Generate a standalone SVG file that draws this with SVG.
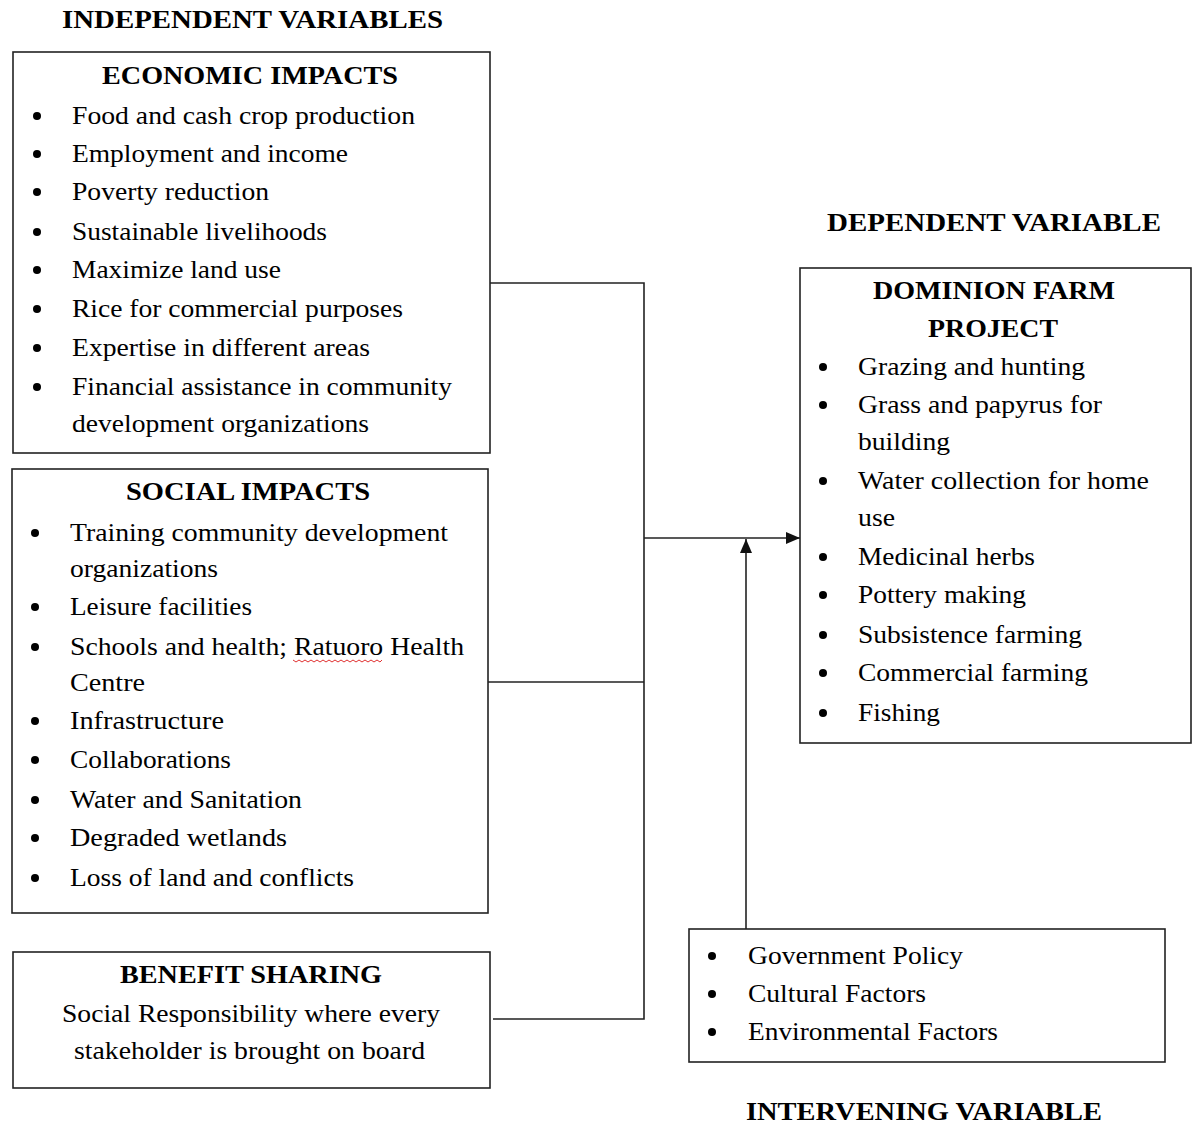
<svg xmlns="http://www.w3.org/2000/svg" width="1193" height="1126" viewBox="0 0 1193 1126">
  <style>
    text { font-family: "Liberation Serif", "Times New Roman", serif; fill: #000; }
    .h { font-size: 25px; font-weight: bold; }
    .b { font-size: 25px; }
    .box { fill: #fff; stroke: #222; stroke-width: 1.6; }
    .wire { fill: none; stroke: #222; stroke-width: 1.6; }
    .dot { fill: #000; }
  </style>
  <defs>
    <marker id="arrow" viewBox="0 0 14 12" refX="14" refY="6" markerWidth="14" markerHeight="12" markerUnits="userSpaceOnUse" orient="auto">
      <path d="M0,0 L14,6 L0,12 Z" fill="#111"/>
    </marker>
  </defs>

  <rect width="1193" height="1126" fill="#fff"/>

  <!-- section captions -->
  <text class="h" x="62" y="28" textLength="381" lengthAdjust="spacingAndGlyphs">INDEPENDENT VARIABLES</text>
  <text class="h" x="827" y="231" textLength="334" lengthAdjust="spacingAndGlyphs">DEPENDENT VARIABLE</text>
  <text class="h" x="746" y="1120" textLength="356" lengthAdjust="spacingAndGlyphs">INTERVENING VARIABLE</text>

  <!-- connectors -->
  <g id="connectors">
    <polyline class="wire" points="490,283 644,283 644,1019 493,1019"/>
    <line class="wire" x1="488" y1="682" x2="644" y2="682"/>
    <line class="wire" x1="644" y1="538" x2="800" y2="538" marker-end="url(#arrow)"/>
    <line class="wire" x1="746" y1="929" x2="746" y2="539" marker-end="url(#arrow)"/>
  </g>

  <!-- economic impacts -->
  <g id="economic">
    <rect class="box" x="13" y="52" width="477" height="401"/>
    <text class="h" x="102" y="84" textLength="296" lengthAdjust="spacingAndGlyphs">ECONOMIC IMPACTS</text>
    <circle class="dot" cx="37" cy="116" r="4"/>
    <text class="b" x="72" y="124" textLength="343" lengthAdjust="spacingAndGlyphs">Food and cash crop production</text>
    <circle class="dot" cx="37" cy="154" r="4"/>
    <text class="b" x="72" y="162" textLength="276" lengthAdjust="spacingAndGlyphs">Employment and income</text>
    <circle class="dot" cx="37" cy="192" r="4"/>
    <text class="b" x="72" y="200" textLength="197" lengthAdjust="spacingAndGlyphs">Poverty reduction</text>
    <circle class="dot" cx="37" cy="232" r="4"/>
    <text class="b" x="72" y="240" textLength="255" lengthAdjust="spacingAndGlyphs">Sustainable livelihoods</text>
    <circle class="dot" cx="37" cy="270" r="4"/>
    <text class="b" x="72" y="278" textLength="209" lengthAdjust="spacingAndGlyphs">Maximize land use</text>
    <circle class="dot" cx="37" cy="309" r="4"/>
    <text class="b" x="72" y="317" textLength="331" lengthAdjust="spacingAndGlyphs">Rice for commercial  purposes</text>
    <circle class="dot" cx="37" cy="348" r="4"/>
    <text class="b" x="72" y="356" textLength="298" lengthAdjust="spacingAndGlyphs">Expertise in  different areas</text>
    <circle class="dot" cx="37" cy="387" r="4"/>
    <text class="b" x="72" y="395" textLength="380" lengthAdjust="spacingAndGlyphs">Financial assistance in community</text>
    <text class="b" x="72" y="432" textLength="297" lengthAdjust="spacingAndGlyphs">development organizations</text>
  </g>

  <!-- social impacts -->
  <g id="social">
    <rect class="box" x="12" y="469" width="476" height="444"/>
    <text class="h" x="126" y="500" textLength="244" lengthAdjust="spacingAndGlyphs">SOCIAL IMPACTS</text>
    <circle class="dot" cx="35" cy="533" r="4"/>
    <text class="b" x="70" y="541" textLength="378" lengthAdjust="spacingAndGlyphs">Training community development</text>
    <text class="b" x="70" y="577" textLength="148" lengthAdjust="spacingAndGlyphs">organizations</text>
    <circle class="dot" cx="35" cy="607" r="4"/>
    <text class="b" x="70" y="615" textLength="182" lengthAdjust="spacingAndGlyphs">Leisure facilities</text>
    <circle class="dot" cx="35" cy="647" r="4"/>
    <text class="b" x="70" y="655" textLength="394" lengthAdjust="spacingAndGlyphs">Schools and health; Ratuoro Health</text>
    <polyline fill="none" stroke="#e03030" stroke-width="1" points="293,660 296,662 299,660 302,662 305,660 308,662 311,660 314,662 317,660 320,662 323,660 326,662 329,660 332,662 335,660 338,662 341,660 344,662 347,660 350,662 353,660 356,662 359,660 362,662 365,660 368,662 371,660 374,662 377,660 380,662 382,660"/>
    <text class="b" x="70" y="691" textLength="75" lengthAdjust="spacingAndGlyphs">Centre</text>
    <circle class="dot" cx="35" cy="721" r="4"/>
    <text class="b" x="70" y="729" textLength="154" lengthAdjust="spacingAndGlyphs">Infrastructure</text>
    <circle class="dot" cx="35" cy="760" r="4"/>
    <text class="b" x="70" y="768" textLength="161" lengthAdjust="spacingAndGlyphs">Collaborations</text>
    <circle class="dot" cx="35" cy="800" r="4"/>
    <text class="b" x="70" y="808" textLength="232" lengthAdjust="spacingAndGlyphs">Water and Sanitation</text>
    <circle class="dot" cx="35" cy="838" r="4"/>
    <text class="b" x="70" y="846" textLength="217" lengthAdjust="spacingAndGlyphs">Degraded wetlands</text>
    <circle class="dot" cx="35" cy="878" r="4"/>
    <text class="b" x="70" y="886" textLength="284" lengthAdjust="spacingAndGlyphs">Loss of land and conflicts</text>
  </g>

  <!-- benefit sharing -->
  <g id="benefit">
    <rect class="box" x="13" y="952" width="477" height="136"/>
    <text class="h" x="120" y="983" textLength="262" lengthAdjust="spacingAndGlyphs">BENEFIT SHARING</text>
    <text class="b" x="62" y="1022" textLength="378" lengthAdjust="spacingAndGlyphs">Social Responsibility  where every</text>
    <text class="b" x="74" y="1059" textLength="351" lengthAdjust="spacingAndGlyphs">stakeholder is brought on board</text>
  </g>

  <!-- dominion farm project -->
  <g id="dominion">
    <rect class="box" x="800" y="268" width="391" height="475"/>
    <text class="h" x="873" y="299" textLength="242" lengthAdjust="spacingAndGlyphs">DOMINION FARM</text>
    <text class="h" x="928" y="337" textLength="130" lengthAdjust="spacingAndGlyphs">PROJECT</text>
    <circle class="dot" cx="823" cy="367" r="4"/>
    <text class="b" x="858" y="375" textLength="227" lengthAdjust="spacingAndGlyphs">Grazing and hunting</text>
    <circle class="dot" cx="823" cy="405" r="4"/>
    <text class="b" x="858" y="413" textLength="244" lengthAdjust="spacingAndGlyphs">Grass and papyrus for</text>
    <text class="b" x="858" y="450" textLength="92" lengthAdjust="spacingAndGlyphs">building</text>
    <circle class="dot" cx="823" cy="481" r="4"/>
    <text class="b" x="858" y="489" textLength="291" lengthAdjust="spacingAndGlyphs">Water collection  for home</text>
    <text class="b" x="858" y="526" textLength="37" lengthAdjust="spacingAndGlyphs">use</text>
    <circle class="dot" cx="823" cy="557" r="4"/>
    <text class="b" x="858" y="565" textLength="177" lengthAdjust="spacingAndGlyphs">Medicinal herbs</text>
    <circle class="dot" cx="823" cy="595" r="4"/>
    <text class="b" x="858" y="603" textLength="168" lengthAdjust="spacingAndGlyphs">Pottery making</text>
    <circle class="dot" cx="823" cy="635" r="4"/>
    <text class="b" x="858" y="643" textLength="224" lengthAdjust="spacingAndGlyphs">Subsistence farming</text>
    <circle class="dot" cx="823" cy="673" r="4"/>
    <text class="b" x="858" y="681" textLength="230" lengthAdjust="spacingAndGlyphs">Commercial farming</text>
    <circle class="dot" cx="823" cy="713" r="4"/>
    <text class="b" x="858" y="721" textLength="82" lengthAdjust="spacingAndGlyphs">Fishing</text>
  </g>

  <!-- intervening factors -->
  <g id="intervening">
    <rect class="box" x="689" y="929" width="476" height="133"/>
    <circle class="dot" cx="712" cy="956" r="4"/>
    <text class="b" x="748" y="964" textLength="215" lengthAdjust="spacingAndGlyphs">Government Policy</text>
    <circle class="dot" cx="712" cy="994" r="4"/>
    <text class="b" x="748" y="1002" textLength="178" lengthAdjust="spacingAndGlyphs">Cultural Factors</text>
    <circle class="dot" cx="712" cy="1032" r="4"/>
    <text class="b" x="748" y="1040" textLength="250" lengthAdjust="spacingAndGlyphs">Environmental Factors</text>
  </g>
</svg>
